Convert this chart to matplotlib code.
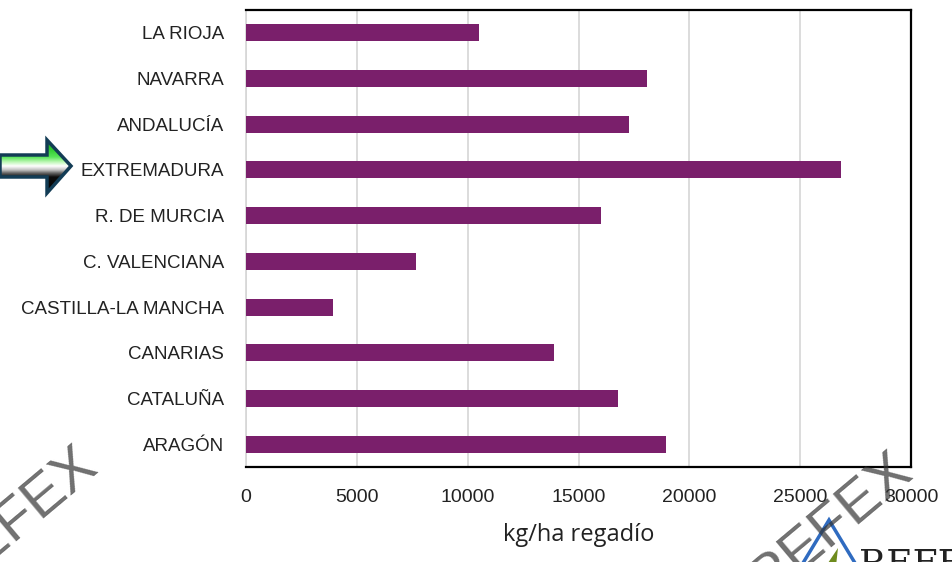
import matplotlib
matplotlib.use("Agg")
import matplotlib.pyplot as plt
import numpy as np
from matplotlib.patches import Polygon

regions = ["ARAGÓN", "CATALUÑA", "CANARIAS", "CASTILLA-LA MANCHA", "C. VALENCIANA",
           "R. DE MURCIA", "EXTREMADURA", "ANDALUCÍA", "NAVARRA", "LA RIOJA"]
values = [18950, 16780, 13890, 3920, 7670, 16010, 26840, 17280, 18090, 10500]
xticks = [0, 5000, 10000, 15000, 20000, 25000, 30000]

plt.rcParams['font.family'] = ['Liberation Sans', 'DejaVu Sans']

W, H = 952, 562
fig = plt.figure(figsize=(9.52, 5.62), dpi=100)
ax = fig.add_axes([246/W, 1-467/H, (911-246)/W, (467-10)/H])

y = np.arange(len(regions))
ax.barh(y, values, height=0.37, color="#7A1F6B", zorder=3)
ax.set_xlim(0, 30000)
ax.set_ylim(-0.5, len(regions)-0.5)
ax.set_xticks(xticks)
ax.set_xticklabels([str(v) for v in xticks], fontsize=14, color="#222222")
ax.set_yticks(y)
ax.set_yticklabels(regions, fontsize=13.5, color="#222222")
ax.tick_params(axis='y', length=0, pad=16)
ax.tick_params(axis='x', length=0, pad=16)
ax.grid(axis='x', color="#D6D6D6", linewidth=1.2, zorder=0)
for s in ['top', 'right', 'bottom']:
    ax.spines[s].set_color('black')
    ax.spines[s].set_linewidth(1.6)
ax.spines['left'].set_color('#D6D6D6')
ax.spines['left'].set_linewidth(1.2)
ax.set_xlabel("kg/ha regadío", fontsize=17, color="#222222", labelpad=12,
              family=['Open Sans', 'DejaVu Sans'])

# arrow with vertical gradient (figure pixel coords)
pts_px = [(0, 155), (47, 155), (47, 140), (71, 166), (47, 193), (47, 177), (0, 177)]
pts = [(px/W, 1-py/H) for px, py in pts_px]
arrow = Polygon(pts, closed=True, transform=fig.transFigure, facecolor='none',
                edgecolor='#123C55', linewidth=2.5, zorder=6)
fig.patches.append(arrow)
grad_ax = fig.add_axes([0, 1-196/H, 74/W, 58/H])
grad_ax.set_axis_off()
stops_y = np.array([138, 150, 157, 162, 166, 170, 173, 177, 196])
stops_c = np.array([
    [0.10, 0.60, 0.10], [0.20, 0.80, 0.20], [0.35, 0.90, 0.35], [0.75, 0.97, 0.72],
    [1.0, 1.0, 1.0], [0.75, 0.75, 0.75], [0.40, 0.40, 0.40], [0.05, 0.05, 0.05],
    [0.0, 0.0, 0.0]])
ys = np.linspace(138, 196, 240)
grad = np.stack([np.interp(ys, stops_y, stops_c[:, k]) for k in range(3)], axis=-1)
img = np.repeat(grad[:, None, :], 10, axis=1)
im = grad_ax.imshow(img, extent=[0, 74, 196, 138], aspect='auto')
grad_ax.set_xlim(0, 74); grad_ax.set_ylim(196, 138)
clip = Polygon(pts_px, closed=True, transform=grad_ax.transData, facecolor='none')
grad_ax.add_patch(clip)
im.set_clip_path(clip)

# watermarks
wm = dict(rotation=40, rotation_mode='anchor', fontsize=42, color="#333333", alpha=0.7,
          ha='center', va='center', family='Liberation Sans')
fig.text(15/W, 1-519/H, "REFEX", **wm)
fig.text(830/W, 1-525/H, "REFEX", **wm)
# logo
tri = Polygon([(800/W, 1-568/H), (829/W, 1-520/H), (858/W, 1-568/H)], closed=False,
              transform=fig.transFigure, facecolor='none', edgecolor='#2F6BC0', linewidth=2.5)
fig.patches.append(tri)
leaf = Polygon([(826/W, 1-566/H), (838/W, 1-548/H), (836/W, 1-566/H)], closed=True,
               transform=fig.transFigure, facecolor='#6E8B1E', edgecolor='none')
fig.patches.append(leaf)
fig.text(859/W, 1-575/H, "REFEX", fontsize=26, color="#222222", ha='left', va='baseline',
         family='DejaVu Serif')

fig.savefig("out.png", dpi=100)
